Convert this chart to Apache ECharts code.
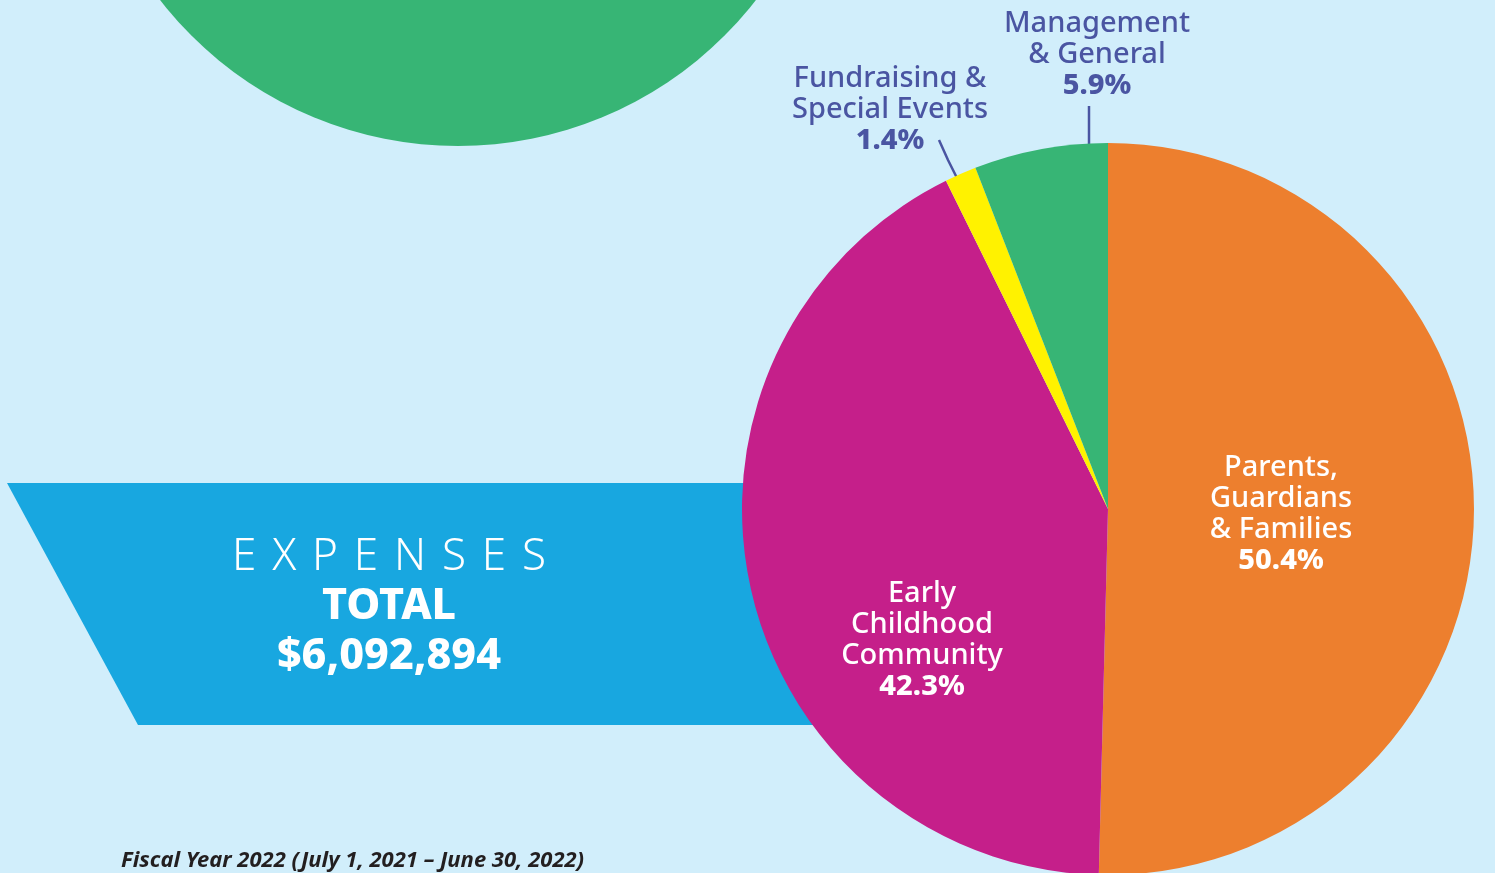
<!DOCTYPE html>
<html>
<head>
<meta charset="utf-8">
<script src="https://cdn.jsdelivr.net/npm/echarts@6/dist/echarts.min.js"></script>
<style>
  html, body { margin: 0; padding: 0; background: #d1eefb; }
  #chart { width: 1495px; height: 873px; }
</style>
</head>
<body>
<div id="chart"></div>
<script>
// Data
const categories = ['Parents, Guardians & Families', 'Early Childhood Community', 'Fundraising & Special Events', 'Management & General'];
const labelNames = ['Parents,\nGuardians\n& Families', 'Early\nChildhood\nCommunity', 'Fundraising &\nSpecial Events', 'Management\n& General'];
const percentages = [50.4, 42.3, 1.4, 5.9];
const sliceColors = ['#ed7f2e', '#c51f8a', '#fff200', '#37b575'];
const titleText = 'EXPENSES';
const totalLabel = 'TOTAL';
const totalValue = '$6,092,894';
const footnote = 'Fiscal Year 2022 (July 1, 2021 \u2013 June 30, 2022)';

const FONT = '"Noto Sans", sans-serif';
const chart = echarts.init(document.getElementById('chart'));

const CX = 1108, CY = 509, R = 366;

// label positions (center of label block) and leader lines
const labelPos = [
  { x: 1281, y: 514 },
  { x: 922, y: 640 },
  { x: 890, y: 110 },
  { x: 1097, y: 55 }
];
const leaders = [
  null,
  null,
  [[957, 178], [948, 160], [939, 140]],
  [[1089, 146], [1089, 125], [1089, 106]]
];

const data = categories.map((c, i) => {
  const outside = i >= 2;
  const col = outside ? '#4a55a2' : '#ffffff';
  return {
    name: c,
    value: percentages[i],
    itemStyle: { color: sliceColors[i] },
    label: {
      position: outside ? 'outside' : 'inside',
      formatter: '{n|' + labelNames[i] + '}\n{p|' + percentages[i].toFixed(1) + '%}',
      rich: {
        n: { fontFamily: FONT, fontSize: 29, fontWeight: 500, color: col, lineHeight: 31, align: 'center' },
        p: { fontFamily: FONT, fontSize: 29, fontWeight: 800, color: col, lineHeight: 31, align: 'center' }
      }
    },
    labelLine: { show: outside, lineStyle: { color: '#4a55a2', width: 2.5 } }
  };
});

// spaced-out title (wide tracking as in the reference)
const spacedTitle = titleText.split('').join(' \u200A');

chart.setOption({
  backgroundColor: '#d1eefb',
  animation: false,
  graphic: [
    { type: 'circle', z: 0, shape: { cx: 458, cy: -231, r: 377 }, style: { fill: '#37b575' } },
    { type: 'polygon', z: 0, shape: { points: [[7, 483], [1000, 483], [1000, 725], [138, 725]] }, style: { fill: '#18a7e0' } },
    { type: 'text', z: 1, x: 389, y: 557, style: { text: spacedTitle, fill: '#ffffff', font: '300 44px ' + FONT, align: 'center', verticalAlign: 'middle' } },
    { type: 'text', z: 1, x: 389, y: 607, style: { text: totalLabel, fill: '#ffffff', font: '800 43px ' + FONT, align: 'center', verticalAlign: 'middle' } },
    { type: 'text', z: 1, x: 389, y: 657, style: { text: totalValue, fill: '#ffffff', font: '800 43px ' + FONT, align: 'center', verticalAlign: 'middle' } },
    { type: 'text', z: 1, x: 121, y: 861, style: { text: footnote, fill: '#231f20', font: 'italic 700 22px ' + FONT, align: 'left', verticalAlign: 'middle' } }
  ],
  series: [{
    type: 'pie',
    z: 10,
    center: [CX, CY],
    radius: [0, R],
    startAngle: 90,
    clockwise: true,
    avoidLabelOverlap: false,
    itemStyle: { borderWidth: 0 },
    emphasis: { disabled: true },
    data: data,
    labelLayout: function (params) {
      const i = params.dataIndex;
      const out = { x: labelPos[i].x, y: labelPos[i].y, align: 'center', verticalAlign: 'middle' };
      if (leaders[i]) out.labelLinePoints = leaders[i];
      return out;
    }
  }]
});
</script>
</body>
</html>
